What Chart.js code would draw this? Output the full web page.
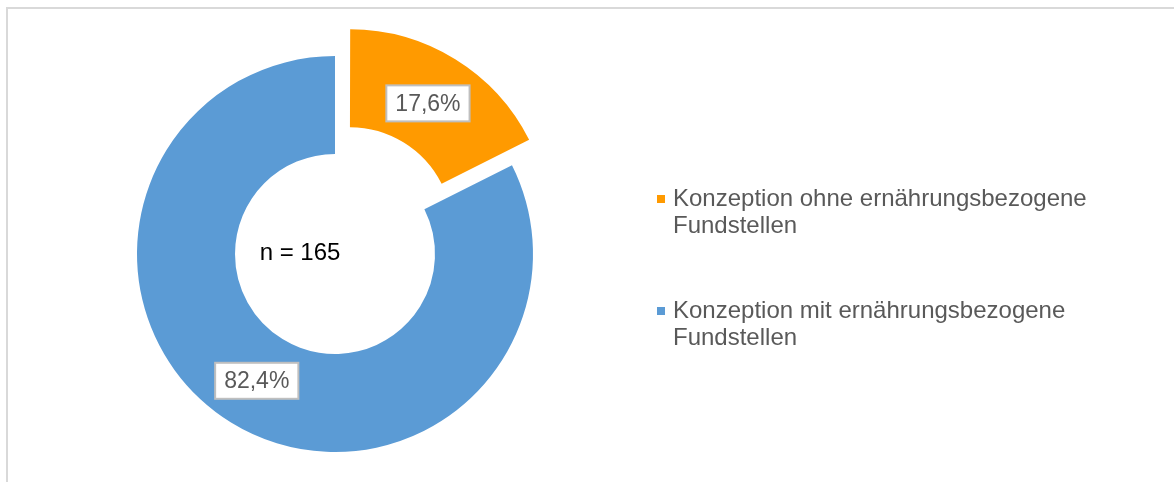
<!DOCTYPE html>
<html>
<head>
<meta charset="utf-8">
<script src="https://cdn.jsdelivr.net/npm/chart.js@4.4.1/dist/chart.umd.min.js"></script>
<style>
  html, body { margin: 0; padding: 0; background: #fff; overflow: hidden; }
  #frame { position: absolute; left: 6px; top: 7px; width: 1200px; height: 520px; border: 2px solid #d9d9d9; box-sizing: border-box; }
  #wrap { position: absolute; left: 0; top: 0; width: 1174px; height: 482px; }
</style>
</head>
<body>
<div id="frame"></div>
<div id="wrap"><canvas id="myChart"></canvas></div>
<script>
const categories = [
  'Konzeption ohne ernährungsbezogene Fundstellen',
  'Konzeption mit ernährungsbezogene Fundstellen'
];
const values = [17.6, 82.4];
const valueLabels = ['17,6%', '82,4%'];
const colors = ['#ff9a00', '#5b9bd5'];
const offsets = [112, 0];
const centerText = 'n = 165';

// labels in white boxes, centre text and the wrapped legend on the right
const extras = {
  id: 'extras',
  afterDraw(chart) {
    const ctx = chart.ctx;
    const meta = chart.getDatasetMeta(0);
    ctx.save();

    ctx.font = '23px "Liberation Sans", Arial, sans-serif';
    ctx.textAlign = 'center';
    ctx.textBaseline = 'middle';
    meta.data.forEach(function(arc, i) {
      const a = (arc.startAngle + arc.endAngle) / 2;
      const r = (arc.innerRadius + arc.outerRadius) / 2 + offsets[i] / 4;
      const px = arc.x + Math.cos(a) * r;
      const py = arc.y + Math.sin(a) * r;
      const w = ctx.measureText(valueLabels[i]).width + 18;
      const h = 36;
      ctx.fillStyle = '#fff';
      ctx.fillRect(px - w / 2, py - h / 2, w, h);
      ctx.strokeStyle = '#bfbfbf';
      ctx.lineWidth = 2;
      ctx.strokeRect(px - w / 2, py - h / 2, w, h);
      ctx.fillStyle = '#595959';
      ctx.fillText(valueLabels[i], px, py + 1);
    });

    ctx.font = '24px "Liberation Sans", Arial, sans-serif';
    ctx.fillStyle = '#000';
    ctx.fillText(centerText, meta.data[1].x - 35, meta.data[1].y - 1);

    // legend
    ctx.textAlign = 'left';
    let y = 199;
    categories.forEach(function(cat, i) {
      const words = cat.split(' ');
      const lines = [];
      let line = '';
      words.forEach(function(wd) {
        const t = line ? line + ' ' + wd : wd;
        if (ctx.measureText(t).width > 430 && line) {
          lines.push(line);
          line = wd;
        } else {
          line = t;
        }
      });
      lines.push(line);
      ctx.fillStyle = colors[i];
      ctx.fillRect(657, y - 4, 8, 8);
      ctx.fillStyle = '#595959';
      lines.forEach(function(l, k) {
        ctx.fillText(l, 673, y + k * 27);
      });
      y += 112;
    });
    ctx.restore();
  }
};

const data = {
  labels: categories,
  datasets: [{
    data: values,
    backgroundColor: colors,
    borderWidth: 0,
    offset: offsets,   // arc offset is divided by 4 when drawn
    hoverOffset: 0
  }]
};

const config = {
  type: 'doughnut',
  data: data,
  options: {
    responsive: true,
    maintainAspectRatio: false,
    animation: false,
    events: [],
    radius: 198,
    cutout: '50.5%',
    layout: { padding: { left: 0, right: 504, top: 26, bottom: 0 } },
    plugins: {
      legend: { display: false },
      tooltip: { enabled: false }
    }
  },
  plugins: [extras]
};

var myChart = new Chart(document.getElementById('myChart'), config);
</script>
</body>
</html>
